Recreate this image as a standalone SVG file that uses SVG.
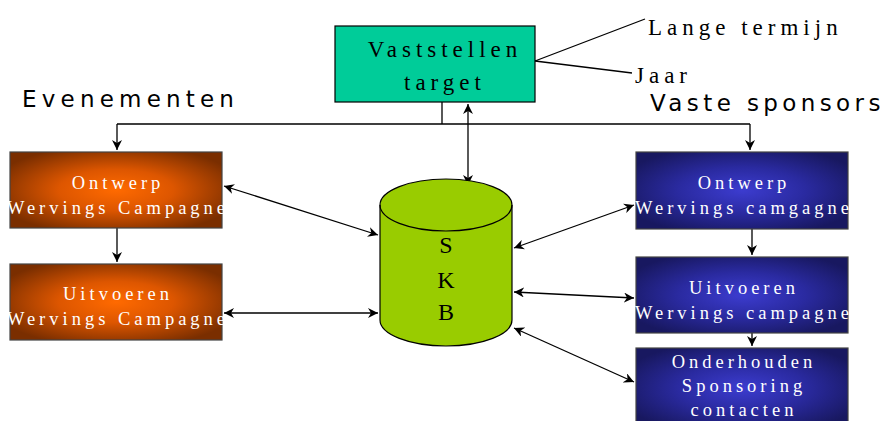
<svg xmlns="http://www.w3.org/2000/svg" width="893" height="421" viewBox="0 0 893 421">
<style>
.box{stroke:#444;stroke-width:1.2}
.wt{fill:#fff;font-family:"Liberation Serif",serif;font-size:18.5px;letter-spacing:4px;text-anchor:middle}
.bt{fill:#000;font-family:"Liberation Serif",serif;font-size:23px;letter-spacing:5px}
.ct{fill:#000;font-family:"DejaVu Sans",sans-serif;font-size:23px;letter-spacing:5.2px}
.ln{stroke:#000;stroke-width:1.3;fill:none}
</style>
<defs>
<radialGradient id="og" cx="50%" cy="50%" r="60%">
<stop offset="0" stop-color="#ff6a00"/>
<stop offset="0.45" stop-color="#dd5600"/>
<stop offset="1" stop-color="#7a2e00"/>
</radialGradient>
<radialGradient id="bg" cx="50%" cy="50%" r="60%">
<stop offset="0" stop-color="#3c3ccf"/>
<stop offset="0.5" stop-color="#2a2aa0"/>
<stop offset="1" stop-color="#181860"/>
</radialGradient>
<marker id="ah" viewBox="0 0 10 10" refX="10" refY="5" markerWidth="10" markerHeight="10" markerUnits="userSpaceOnUse" orient="auto-start-reverse">
<path d="M0,0 L10,5 L0,10 L3,5 Z" fill="#000"/>
</marker>
</defs>

<g id="connectors">
<path class="ln" d="M442,102 V124 M117,124 H750"/>
<path class="ln" d="M117,124 V150" marker-end="url(#ah)"/>
<path class="ln" d="M750,124 V150" marker-end="url(#ah)"/>
<path class="ln" d="M468,104 V185" marker-start="url(#ah)" marker-end="url(#ah)"/>
<path class="ln" d="M117,228 V262" marker-end="url(#ah)"/>
<path class="ln" d="M752,229 V255" marker-end="url(#ah)"/>
<path class="ln" d="M752,333 V346" marker-end="url(#ah)"/>
<path class="ln" d="M224,186 L378,235" marker-start="url(#ah)" marker-end="url(#ah)"/>
<path class="ln" d="M224,313 L378,313" marker-start="url(#ah)" marker-end="url(#ah)"/>
<path class="ln" d="M514,248 L634,205" marker-start="url(#ah)" marker-end="url(#ah)"/>
<path class="ln" d="M514,292 L634,298" marker-start="url(#ah)" marker-end="url(#ah)"/>
<path class="ln" d="M514,328 L634,382" marker-start="url(#ah)" marker-end="url(#ah)"/>
<path class="ln" d="M535,61 L645,19 M535,61 L632,73"/>
</g>

<g id="target">
<rect x="335" y="26" width="200" height="76" fill="#00cc99" stroke="#000" stroke-width="1.2"/>
<text class="bt" x="445" y="57" text-anchor="middle">Vaststellen</text>
<text class="bt" x="445" y="90" text-anchor="middle">target</text>
</g>
<g id="lange">
<text class="bt" x="648" y="35">Lange termijn</text>
</g>
<g id="jaar">
<text class="bt" x="635" y="83">Jaar</text>
</g>
<g id="evenementen">
<text class="ct" x="22" y="107">Evenementen</text>
</g>
<g id="vaste">
<text class="ct" x="650" y="111" style="letter-spacing:4.4px">Vaste sponsors</text>
</g>

<g id="skb">
<path d="M380,205 V320 A66,26 0 0 0 512,320 V205 A66,26 0 0 0 380,205 Z" fill="#99cc00" stroke="#000" stroke-width="1.2"/>
<path d="M380,205 A66,26 0 0 0 512,205" fill="none" stroke="#000" stroke-width="1.2"/>
<text x="446" y="253" font-family="Liberation Serif,serif" font-size="24" text-anchor="middle">S</text>
<text x="446" y="288" font-family="Liberation Serif,serif" font-size="24" text-anchor="middle">K</text>
<text x="446" y="320" font-family="Liberation Serif,serif" font-size="24" text-anchor="middle">B</text>
</g>

<g id="ev-ontwerp">
<rect class="box" x="10" y="152" width="212" height="76" fill="url(#og)"/>
<text class="wt" x="118" y="189">Ontwerp</text>
<text class="wt" x="118" y="214">Wervings Campagne</text>
</g>
<g id="ev-uitvoeren">
<rect class="box" x="10" y="264" width="212" height="76" fill="url(#og)"/>
<text class="wt" x="118" y="300">Uitvoeren</text>
<text class="wt" x="118" y="325">Wervings Campagne</text>
</g>

<g id="vs-ontwerp">
<rect class="box" x="636" y="152" width="212" height="77" fill="url(#bg)"/>
<text class="wt" x="744" y="189">Ontwerp</text>
<text class="wt" x="744" y="214">Wervings camgagne</text>
</g>
<g id="vs-uitvoeren">
<rect class="box" x="636" y="257" width="212" height="76" fill="url(#bg)"/>
<text class="wt" x="744" y="294">Uitvoeren</text>
<text class="wt" x="744" y="319">Wervings campagne</text>
</g>
<g id="vs-onderhouden">
<rect class="box" x="636" y="348" width="212" height="80" fill="url(#bg)"/>
<text class="wt" x="744" y="368">Onderhouden</text>
<text class="wt" x="744" y="392">Sponsoring</text>
<text class="wt" x="744" y="416">contacten</text>
</g>
</svg>
